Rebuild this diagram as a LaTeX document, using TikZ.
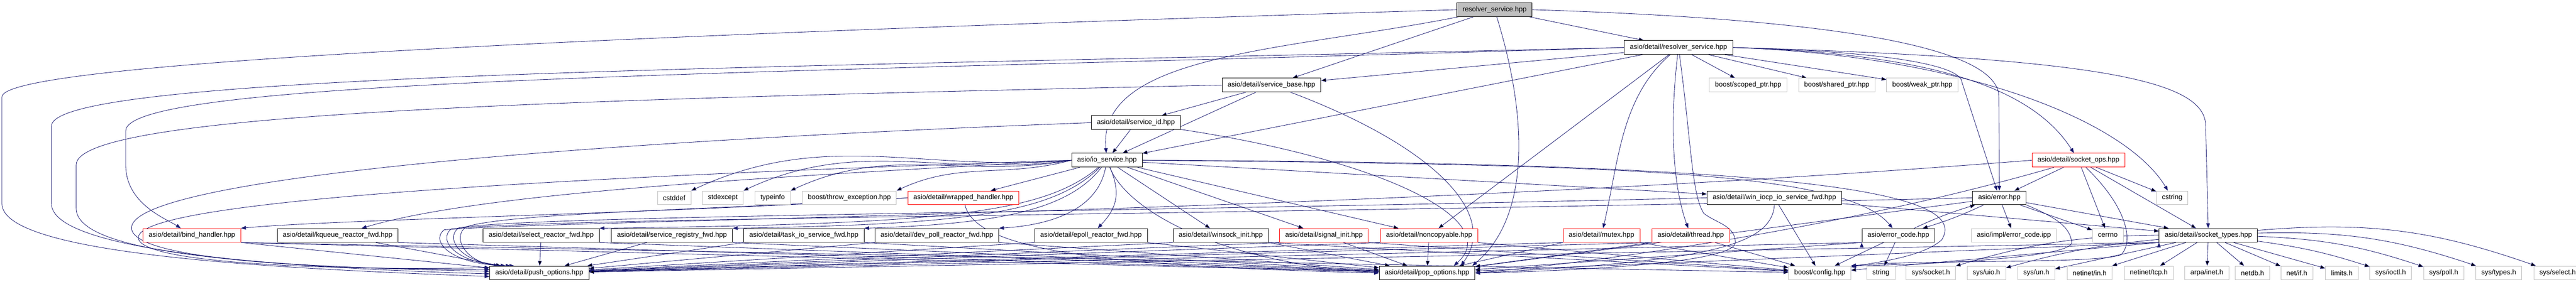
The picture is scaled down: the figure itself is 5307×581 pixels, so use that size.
\documentclass[tikz,border=0pt]{standalone}
\usepackage{fontspec}
\setmainfont{Liberation Sans}
\usepackage{tikz}
\usetikzlibrary{arrows.meta, positioning, backgrounds}
\usepackage{xcolor}
\definecolor{edgeblue}{HTML}{191970}
\definecolor{sysgray}{HTML}{BFBFBF}

\begin{document}
\begin{tikzpicture}[x=1pt,y=1pt,>={Triangle[length=10pt,width=7.5pt]}]
  \tikzstyle{filebox}=[rectangle,fill=white,line width=1pt,inner xsep=11.5pt,inner ysep=0pt,minimum height=28.5pt,font=\fontsize{14.3}{16}\selectfont]
  \tikzstyle{hdr}=[filebox,draw=black]
  \tikzstyle{sys}=[filebox,draw=sysgray]
  \tikzstyle{trunc}=[filebox,draw=red]
  \tikzstyle{mainfile}=[filebox,draw=black,fill=sysgray]
  \tikzstyle{link}=[->,draw=edgeblue,line width=0.9pt]

  \useasboundingbox (0,0) rectangle (5307,-581);

  \node[mainfile] (resolver)     at (3079,-20)     {resolver\_service.hpp};
  \node[hdr]      (det_resolver) at (3458,-98)     {asio/detail/resolver\_service.hpp};
  \node[hdr]      (service_base) at (2619.5,-175.5) {asio/detail/service\_base.hpp};
  \node[sys]      (scoped_ptr)   at (3601.5,-175.5) {boost/scoped\_ptr.hpp};
  \node[sys]      (shared_ptr)   [right=23pt of scoped_ptr] {boost/shared\_ptr.hpp};
  \node[sys]      (weak_ptr)     [right=23pt of shared_ptr] {boost/weak\_ptr.hpp};
  \node[hdr]      (service_id)   at (2340,-253)    {asio/detail/service\_id.hpp};
  \node[hdr]      (io_service)   at (2280.5,-330.5) {asio/io\_service.hpp};
  \node[trunc]    (socket_ops)   at (4282,-330.5)  {asio/detail/socket\_ops.hpp};

  \node[sys]   (cstddef)         at (1389,-408)    {cstddef};
  \node[sys]   (stdexcept)       [right=22.5pt of cstddef]   {stdexcept};
  \node[sys]   (typeinfo)        [right=23pt of stdexcept]   {typeinfo};
  \node[sys]   (throw_exc)       [right=23.5pt of typeinfo]  {boost/throw\_exception.hpp};
  \node[trunc] (wrapped_handler) [right=22.5pt of throw_exc] {asio/detail/wrapped\_handler.hpp};
  \node[hdr]   (win_iocp_fwd)    at (3655.5,-408)  {asio/detail/win\_iocp\_io\_service\_fwd.hpp};
  \node[hdr]   (error_hpp)       at (4119,-408)    {asio/error.hpp};
  \node[sys]   (cstring)         at (4475,-408)    {cstring};

  \node[trunc] (bind_handler)  at (395.5,-485.5) {asio/detail/bind\_handler.hpp};
  \node[hdr]   (kqueue_fwd)    [right=74pt of bind_handler]    {asio/detail/kqueue\_reactor\_fwd.hpp};
  \node[hdr]   (select_fwd)    [right=174.5pt of kqueue_fwd]   {asio/detail/select\_reactor\_fwd.hpp};
  \node[hdr]   (registry_fwd)  [right=24pt of select_fwd]      {asio/detail/service\_registry\_fwd.hpp};
  \node[hdr]   (task_fwd)      [right=22pt of registry_fwd]    {asio/detail/task\_io\_service\_fwd.hpp};
  \node[hdr]   (dev_poll_fwd)  [right=21.5pt of task_fwd]      {asio/detail/dev\_poll\_reactor\_fwd.hpp};
  \node[hdr]   (epoll_fwd)     [right=73pt of dev_poll_fwd]    {asio/detail/epoll\_reactor\_fwd.hpp};
  \node[hdr]   (winsock_init)  at (2515,-485.5)  {asio/detail/winsock\_init.hpp};
  \node[trunc] (signal_init)   [right=22pt of winsock_init]    {asio/detail/signal\_init.hpp};
  \node[trunc] (noncopyable)   [right=24pt of signal_init]     {asio/detail/noncopyable.hpp};
  \node[trunc] (mutex)         [right=175pt of noncopyable]    {asio/detail/mutex.hpp};
  \node[trunc] (thread)        [right=24pt of mutex]           {asio/detail/thread.hpp};
  \node[hdr]   (error_code)    at (3911,-485.5)  {asio/error\_code.hpp};
  \node[sys]   (error_ipp)     [right=74pt of error_code]      {asio/impl/error\_code.ipp};
  \node[sys]   (cerrno)        [right=73pt of error_ipp]       {cerrno};
  \node[hdr]   (socket_types)  [right=73pt of cerrno]          {asio/detail/socket\_types.hpp};

  \node[hdr] (push_options) at (1111,-563)  {asio/detail/push\_options.hpp};
  \node[hdr] (pop_options)  at (2940,-563)  {asio/detail/pop\_options.hpp};
  \node[sys] (boost_config) at (3749,-563)  {boost/config.hpp};
  \node[sys] (string)       [right=32pt of boost_config] {string};
  \node[sys] (sys_socket)   [right=22pt of string]       {sys/socket.h};
  \node[sys] (sys_uio)      [right=23pt of sys_socket]   {sys/uio.h};
  \node[sys] (sys_un)       [right=24pt of sys_uio]      {sys/un.h};
  \node[sys] (netinet_in)   [right=24pt of sys_un]       {netinet/in.h};
  \node[sys] (netinet_tcp)  [right=24pt of netinet_in]   {netinet/tcp.h};
  \node[sys] (arpa_inet)    [right=23pt of netinet_tcp]  {arpa/inet.h};
  \node[sys] (netdb)        at (4640.5,-563)             {netdb.h};
  \node[sys] (net_if)       [right=22pt of netdb]        {net/if.h};
  \node[sys] (limits)       [right=25pt of net_if]       {limits.h};
  \node[sys] (sys_ioctl)    [right=23pt of limits]       {sys/ioctl.h};
  \node[sys] (sys_poll)     [right=24pt of sys_ioctl]    {sys/poll.h};
  \node[sys] (sys_types)    [right=24pt of sys_poll]     {sys/types.h};
  \node[sys] (sys_select)   [right=24pt of sys_types]    {sys/select.h};

  \begin{scope}[on background layer]
  \path[link]
  (resolver) edge (service_base)
  (resolver) edge (det_resolver)
  (det_resolver) edge (service_base)
  (det_resolver) edge (io_service)
  (det_resolver) edge (noncopyable)
  (det_resolver) edge (scoped_ptr)
  (det_resolver) edge (shared_ptr)
  (det_resolver) edge (weak_ptr)
  (service_base) edge (service_id)
  (service_base) edge (io_service)
  (service_id) edge (io_service)
  (io_service.west) edge[out=185,in=25] (cstddef.north east)
  (io_service.west) edge[out=188,in=25] (stdexcept.north east)
  (io_service.west) edge[out=190,in=25] (typeinfo.north east)
  (io_service.west) edge[out=195,in=25] (throw_exc.north east)
  (io_service) edge (wrapped_handler)
  (io_service) edge (winsock_init)
  (io_service) edge (signal_init)
  (io_service) edge (noncopyable)
  (io_service) edge (win_iocp_fwd)
  (win_iocp_fwd) edge (boost_config)
  (win_iocp_fwd) edge (socket_types)
  (error_hpp) edge[bend left=4] (error_code)
  (error_hpp) edge (error_ipp)
  (error_hpp) edge (cerrno)
  (error_hpp) edge (socket_types)
  (error_hpp) edge (pop_options)
  (socket_ops) edge (error_hpp)
  (socket_ops) edge (cerrno)
  (socket_ops) edge (cstring)
  (socket_ops) edge (socket_types)
  (error_code) edge[bend left=4] (error_hpp)
  (error_code) edge (boost_config)
  (error_code) edge (string)
  (error_code.south west) edge (push_options)
  (error_code.south west) edge (pop_options)
  ;

  \path[link]
  (bind_handler.south east) edge (push_options)
  (bind_handler.south east) edge (pop_options)
  (bind_handler.south east) edge (boost_config)
  (kqueue_fwd) edge (push_options)
  (kqueue_fwd.south east) edge (pop_options)
  (select_fwd) edge (push_options)
  (select_fwd.south east) edge (pop_options)
  (registry_fwd) edge (push_options)
  (registry_fwd.south east) edge (pop_options)
  (task_fwd.south west) edge (push_options)
  (task_fwd.south east) edge (pop_options)
  (dev_poll_fwd.south west) edge (push_options)
  (dev_poll_fwd.south east) edge (pop_options)
  (epoll_fwd.south west) edge (push_options)
  (epoll_fwd.south east) edge (pop_options)
  (winsock_init.south west) edge (push_options)
  (winsock_init.south east) edge (pop_options)
  (winsock_init.south east) edge (boost_config)
  (signal_init.south west) edge (push_options)
  (signal_init) edge (pop_options)
  (signal_init.south east) edge (boost_config)
  (noncopyable.south west) edge (push_options)
  (noncopyable) edge (pop_options)
  (noncopyable.south east) edge (boost_config)
  (mutex.south west) edge (push_options)
  (mutex.south west) edge (pop_options)
  (mutex.south east) edge (boost_config)
  (thread.south west) edge (push_options)
  (thread.south west) edge (pop_options)
  (thread) edge (boost_config)
  (socket_types.south west) edge (push_options)
  (socket_types.south west) edge (pop_options)
  (socket_types.south west) edge (boost_config)
  ;

  \path[link]
  (socket_types) edge[bend right=8] (sys_socket)
  (socket_types) edge[bend right=5] (sys_uio)
  (socket_types) edge (sys_un)
  (socket_types) edge (netinet_in)
  (socket_types) edge (netinet_tcp)
  (socket_types) edge (arpa_inet)
  (socket_types) edge (netdb)
  (socket_types) edge (net_if)
  (socket_types) edge (limits)
  (socket_types) edge[bend left=5] (sys_ioctl)
  (socket_types) edge[bend left=8] (sys_poll)
  (socket_types) edge[bend left=10] (sys_types)
  (socket_types) edge[bend left=12] (sys_select)
  ;

  % long round trips on the left
  \draw[link] (resolver.west) .. controls (1200,-75) and (4,-130) .. (4,-200) -- (4,-420) .. controls (4,-520) and (500,-552) .. (push_options.184);
  \draw[link] (det_resolver.west) .. controls (1600,-140) and (106,-150) .. (106,-260) -- (106,-420) .. controls (106,-510) and (500,-550) .. (push_options.181);
  \draw[link] (det_resolver.west) .. controls (1600,-152) and (259,-160) .. (259,-270) -- (259,-340) .. controls (259,-420) and (340,-450) .. (bind_handler);
  \draw[link] (service_base.west) .. controls (1200,-205) and (157,-230) .. (157,-340) -- (157,-430) .. controls (157,-520) and (500,-550) .. (push_options.178);
  \draw[link] (service_id.west) .. controls (1000,-300) and (271,-380) .. (271,-470) .. controls (271,-540) and (700,-556) .. (push_options.176);
  \draw[link] (io_service.west) .. controls (1000,-370) and (285,-420) .. (285,-490) .. controls (285,-545) and (700,-558) .. (push_options.174);

  \draw[link] (resolver) .. controls (2650,-105) and (2260,-110) .. (io_service);
  \draw[link] (resolver) .. controls (3150,-250) and (3150,-450) .. (pop_options.9);
  \draw[link] (resolver.east) .. controls (3800,-40) and (4118,-100) .. (4118,-200) -- (error_hpp);

  \draw[link] (det_resolver) .. controls (3340,-200) and (3335,-330) .. (mutex);
  \draw[link] (det_resolver) .. controls (3440,-250) and (3445,-380) .. (thread);
  \draw[link] (det_resolver) .. controls (3485,-300) and (3485,-400) .. (3510,-440) .. controls (3535,-460) and (3575,-465) .. (3575,-500) .. controls (3575,-545) and (3200,-560) .. (pop_options.east);
  \draw[link] (det_resolver.east) .. controls (3850,-105) and (4040,-130) .. (4042,-170) -- (error_hpp);
  \draw[link] (det_resolver.east) .. controls (3950,-110) and (4180,-170) .. (socket_ops);
  \draw[link] (det_resolver.east) .. controls (4050,-115) and (4380,-250) .. (cstring);
  \draw[link] (det_resolver.east) .. controls (4350,-120) and (4544,-170) .. (4544,-260) -- (socket_types);

  \draw[link] (service_base) .. controls (2950,-300) and (3090,-440) .. (pop_options.12);
  \draw[link] (service_id) .. controls (2850,-330) and (3100,-455) .. (pop_options.15);

  \draw[link] (io_service.west) .. controls (1600,-365) and (1000,-395) .. (kqueue_fwd);
  \draw[link] (io_service) .. controls (2150,-440) and (1950,-462) .. (select_fwd.north east);
  \draw[link] (io_service) .. controls (2170,-440) and (1990,-463) .. (registry_fwd.north east);
  \draw[link] (io_service) .. controls (2200,-435) and (2050,-462) .. (task_fwd.north east);
  \draw[link] (io_service) .. controls (2260,-440) and (2150,-465) .. (dev_poll_fwd.north east);
  \draw[link] (io_service) .. controls (2310,-400) and (2300,-430) .. (epoll_fwd);
  \draw[link] (io_service) .. controls (2320,-430) and (2500,-540) .. (pop_options.west);
  \draw[link] (io_service.east) .. controls (3300,-340) and (3800,-350) .. (error_code);
  \draw[link] (io_service.east) .. controls (3750,-335) and (4060,-400) .. (4000,-495) .. controls (3960,-530) and (3870,-540) .. (boost_config);

  \draw[link] (wrapped_handler.west) .. controls (1400,-440) and (700,-452) .. (bind_handler.north east);
  \draw[link] (wrapped_handler.west) .. controls (1500,-432) and (1050,-438) .. (960,-468) .. controls (930,-490) and (960,-540) .. (push_options.170);
  \draw[link] (wrapped_handler) .. controls (2010,-520) and (2300,-550) .. (pop_options.west);

  \draw[link] (win_iocp_fwd.west) .. controls (2200,-440) and (1100,-444) .. (945,-470) .. controls (915,-492) and (950,-542) .. (push_options.168);
  \draw[link] (win_iocp_fwd.south) .. controls (3650,-510) and (3500,-540) .. (pop_options.east);

  \draw[link] (error_hpp.west) .. controls (2500,-445) and (1150,-448) .. (930,-472) .. controls (900,-495) and (940,-545) .. (push_options.166);
  \draw[link] (error_hpp.south east) .. controls (4240,-450) and (4265,-470) .. (4268,-500) .. controls (4270,-530) and (4000,-545) .. (boost_config.north east);

  \draw[link] (socket_ops.west) .. controls (2800,-440) and (1200,-452) .. (915,-474) .. controls (885,-498) and (930,-548) .. (push_options.164);
  \draw[link] (socket_ops) .. controls (3800,-470) and (3300,-540) .. (pop_options.east);
  \draw[link] (socket_ops) .. controls (4385,-430) and (4395,-500) .. (4370,-525) .. controls (4330,-545) and (3950,-535) .. (boost_config.north east);
  \end{scope}
\end{tikzpicture}
\end{document}
